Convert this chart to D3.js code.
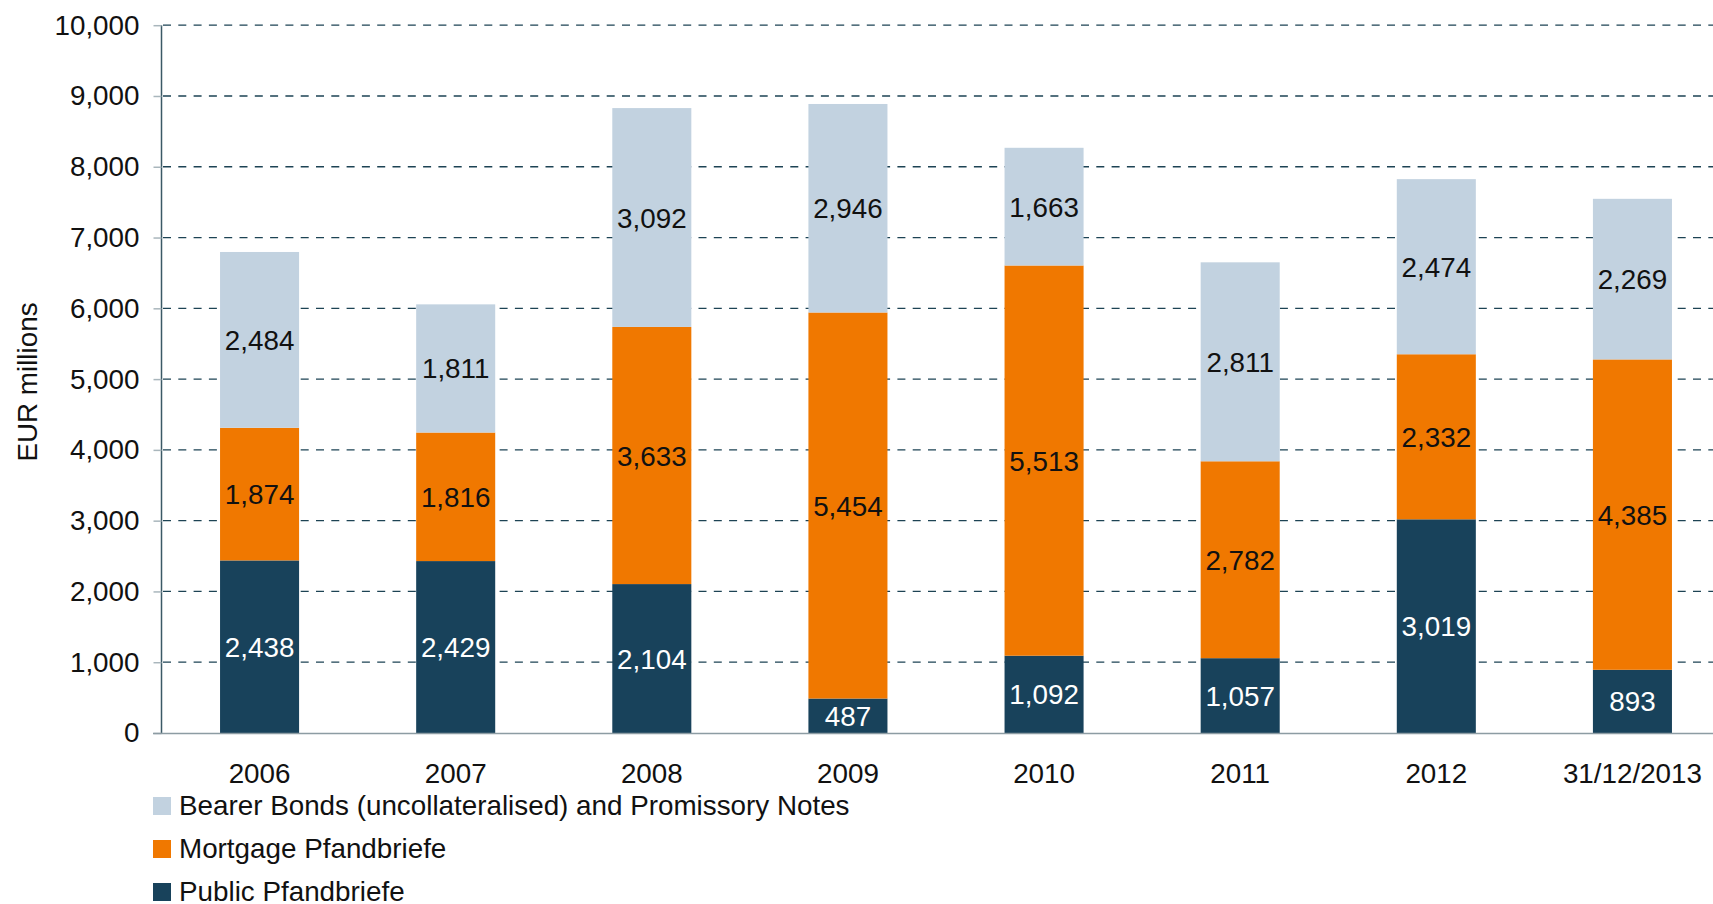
<!DOCTYPE html>
<html>
<head>
<meta charset="utf-8">
<script src="https://cdn.jsdelivr.net/npm/d3@7"></script>
<style>
  html, body { margin: 0; padding: 0; background: #fff; }
  svg { display: block; font-family: "Liberation Sans", Arial, sans-serif; }
</style>
</head>
<body>
<svg id="chart" width="1713" height="904"></svg>
<script>
const categories = ["2006", "2007", "2008", "2009", "2010", "2011", "2012", "31/12/2013"];
const publicPfandbriefe = [2438, 2429, 2104, 487, 1092, 1057, 3019, 893];
const mortgagePfandbriefe = [1874, 1816, 3633, 5454, 5513, 2782, 2332, 4385];
const bearerBonds = [2484, 1811, 3092, 2946, 1663, 2811, 2474, 2269];
const yTicks = [0, 1000, 2000, 3000, 4000, 5000, 6000, 7000, 8000, 9000, 10000];
const seriesNames = ["Public Pfandbriefe", "Mortgage Pfandbriefe", "Bearer Bonds (uncollateralised) and Promissory Notes"];
const seriesColors = ["#18425b", "#f07800", "#c2d2e0"];
const labelColors = ["#ffffff", "#111111", "#111111"];

const svg = d3.select("#chart");
const fontSize = 27.8;

const x = d3.scaleBand().domain(categories).range([161.5, 1730.5]).paddingInner(0.597).paddingOuter(0.2985);
const y = d3.scaleLinear().domain([0, 10000]).range([733, 25.2]);

const rows = categories.map((c, i) => ({ cat: c, s0: publicPfandbriefe[i], s1: mortgagePfandbriefe[i], s2: bearerBonds[i] }));
const stacked = d3.stack().keys(["s0", "s1", "s2"])(rows);

// gridlines
svg.append("g").selectAll("line").data(yTicks.filter(d => d > 0)).join("line")
  .attr("x1", 163).attr("x2", 1713)
  .attr("y1", d => y(d)).attr("y2", d => y(d))
  .attr("stroke", "#1d4354").attr("stroke-width", 1.3)
  .attr("stroke-dasharray", "8,7.3");

// bars
stacked.forEach((layer, si) => {
  const g = svg.append("g");
  g.selectAll("rect").data(layer).join("rect")
    .attr("x", d => x(d.data.cat))
    .attr("width", x.bandwidth())
    .attr("y", d => y(d[1]))
    .attr("height", d => y(d[0]) - y(d[1]))
    .attr("fill", seriesColors[si]);
  g.selectAll("text").data(layer).join("text")
    .attr("x", d => x(d.data.cat) + x.bandwidth() / 2)
    .attr("y", d => (y(d[0]) + y(d[1])) / 2)
    .attr("dy", "0.36em")
    .attr("text-anchor", "middle")
    .attr("font-size", fontSize)
    .attr("fill", labelColors[si])
    .text(d => d3.format(",")(d[1] - d[0]));
});

// y axis
const yAxis = d3.axisLeft(y).tickValues(yTicks).tickFormat(d3.format(",")).tickSize(8).tickPadding(14);
const ya = svg.append("g").attr("transform", "translate(161.5,0)").call(yAxis);
ya.select(".domain").attr("stroke", "#3b5966").attr("stroke-width", 1.5).attr("d", `M0,${y(10000)}V${y(0)}`);
ya.selectAll(".tick line").attr("stroke", "#a9b6bc").attr("stroke-width", 1.5);
ya.selectAll(".tick text").attr("font-size", fontSize).attr("fill", "#111").attr("font-family", "Liberation Sans, Arial, sans-serif");

// x axis baseline
svg.append("line").attr("x1", 153).attr("x2", 1713).attr("y1", y(0) + 0.5).attr("y2", y(0) + 0.5)
  .attr("stroke", "#8d9ca3").attr("stroke-width", 1.5);

// x labels
const xAxis = d3.axisBottom(x).tickSize(0).tickPadding(30);
const xa = svg.append("g").attr("transform", `translate(0,${y(0)})`).call(xAxis);
xa.select(".domain").remove();
xa.selectAll(".tick text").attr("font-size", fontSize).attr("fill", "#111").attr("font-family", "Liberation Sans, Arial, sans-serif");

// y title
svg.append("text").attr("transform", "translate(37,382) rotate(-90)")
  .attr("text-anchor", "middle").attr("font-size", fontSize).attr("fill", "#111")
  .text("EUR millions");

// legend
const legendOrder = [2, 1, 0];
const lg = svg.append("g");
legendOrder.forEach((si, i) => {
  const yy = 797 + i * 43;
  lg.append("rect").attr("x", 153).attr("y", yy).attr("width", 18).attr("height", 18).attr("fill", seriesColors[si]);
  lg.append("text").attr("x", 179).attr("y", yy + 17.5).attr("font-size", fontSize).attr("fill", "#111").text(seriesNames[si]);
});
</script>
</body>
</html>
